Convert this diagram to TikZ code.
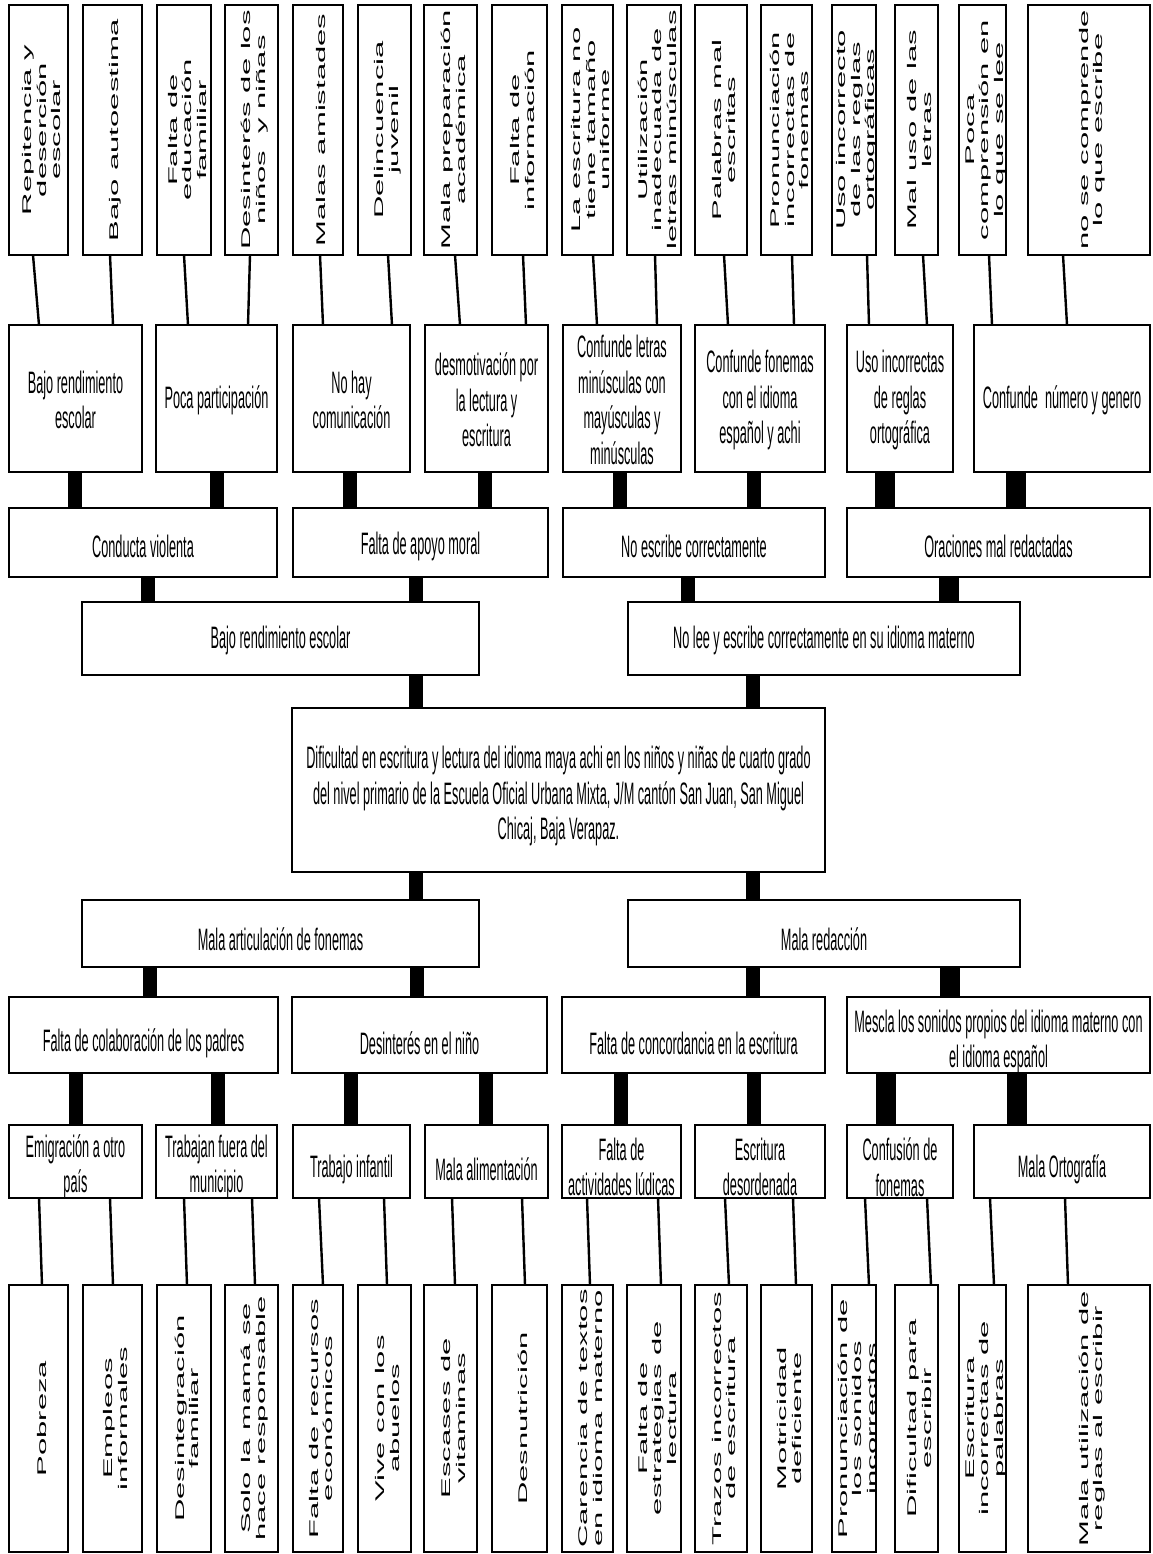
\documentclass[tikz,border=0pt]{standalone}
\usepackage{fontspec}
\setmainfont{Liberation Sans}
\newfontfamily\hfnt[FakeStretch=0.41]{Liberation Sans}
\newfontfamily\vfnt[FakeStretch=2.46]{Liberation Sans}
\tikzset{
  bx/.style={draw, line width=1.5pt, inner sep=0pt, outer sep=0pt},
  ht/.style={align=center, inner sep=0pt, font=\hfnt\fontsize{31}{35.5}\selectfont},
  vt/.style={rotate=90, align=center, inner sep=0pt, font=\vfnt\fontsize{12.6}{14.5}\selectfont},
  bar/.style={line width=14pt},
  wbar/.style={line width=20pt},
  sl/.style={line width=2.4pt}
}
% horizontal box: name, x1, y1, x2, y2, text y, text
\newcommand{\HBx}[7]{%
  \node[bx, minimum width={#4-#2}, minimum height={#5-#3}] (#1) at ({(#2+#4)/2},{(#3+#5)/2}) {};
  \node[ht] (#1-t) at ({(#2+#4)/2},#6) {#7};
}
% vertical box: name, x1, y1, x2, y2, text
\newcommand{\VBx}[6]{%
  \node[bx, minimum width={#4-#2}, minimum height={#5-#3}] (#1) at ({(#2+#4)/2},{(#3+#5)/2}) {};
  \node[vt] (#1-t) at ({(#2+#4)/2+3},{(#3+#5)/2}) {#6};
}
\begin{document}
\begin{tikzpicture}[x=1pt,y=-1pt]
\useasboundingbox[fill=white] (0,0) rectangle (1152,1554);

% ---------- top row ----------
\VBx{t1}{9}{5}{68}{255}{Repitencia y\\deserción\\escolar}
\VBx{t2}{83}{5}{142}{255}{Bajo autoestima}
\VBx{t3}{157}{5}{211}{255}{Falta de\\educación\\familiar}
\VBx{t4}{225}{5}{278}{255}{Desinterés de los\\niños\ \ y niñas}
\VBx{t5}{293}{5}{343}{255}{Malas amistades}
\VBx{t6}{358}{5}{411}{255}{Delincuencia\\juvenil}
\VBx{t7}{424}{5}{477}{255}{Mala preparación\\académica}
\VBx{t8}{492}{5}{547}{255}{Falta de\\información}
\VBx{t9}{562}{5}{613}{255}{La escritura no\\tiene tamaño\\uniforme}
\VBx{t10}{627}{5}{681}{255}{Utilización\\inadecuada de\\letras minúsculas}
\VBx{t11}{695}{5}{747}{255}{Palabras mal\\escritas}
\VBx{t12}{761}{5}{812}{255}{Pronunciación\\incorrectas de\\fonemas}
\VBx{t13}{832}{5}{876}{255}{Uso incorrecto\\de las reglas\\ortográficas}
\VBx{t14}{895}{5}{938}{255}{Mal uso de las\\letras}
\VBx{t15}{959}{5}{1006}{255}{Poca\\comprensión en\\lo que se lee}
\VBx{t16}{1028}{5}{1150}{255}{no se comprende\\lo que escribe}

% ---------- row 2 ----------
\HBx{ra}{9}{325}{142}{472}{400}{Bajo rendimiento\\escolar}
\HBx{rb}{156}{325}{277}{472}{400}{Poca participación}
\HBx{rc}{293}{325}{410}{472}{400}{No hay\\comunicación}
\HBx{rd}{425}{325}{548}{472}{400}{desmotivación por\\la lectura y\\escritura}
\HBx{re}{563}{325}{681}{472}{400}{Confunde letras\\minúsculas con\\mayúsculas y\\minúsculas}
\HBx{rf}{695}{325}{825}{472}{400}{Confunde fonemas\\con el idioma\\español y achi}
\HBx{rg}{847}{325}{953}{472}{400}{Uso incorrectas\\de reglas\\ortográfica}
\HBx{rh}{974}{325}{1150}{472}{400}{Confunde\ \ número y genero}

% ---------- row 3 ----------
\HBx{c1}{9}{508}{277}{577}{546}{Conducta violenta}
\HBx{c2}{293}{508}{548}{577}{546}{Falta de apoyo moral}
\HBx{c3}{563}{508}{825}{577}{546}{No escribe correctamente}
\HBx{c4}{847}{508}{1150}{577}{546}{Oraciones mal redactadas}

% ---------- row 4 ----------
\HBx{d1}{82}{602}{479}{675}{640}{Bajo rendimiento escolar}
\HBx{d2}{628}{602}{1020}{675}{640}{No lee y escribe correctamente en su idioma materno}

% ---------- central ----------
\HBx{ctr}{292}{708}{825}{872}{796}{Dificultad en escritura y lectura del idioma maya achi en los niños y niñas de cuarto grado\\del nivel primario de la Escuela Oficial Urbana Mixta, J/M cantón San Juan, San Miguel\\Chicaj, Baja Verapaz.}

% ---------- row 5 ----------
\HBx{e1}{82}{900}{479}{967}{939}{Mala articulación de fonemas}
\HBx{e2}{628}{900}{1020}{967}{939}{Mala redacción}

% ---------- row 6 ----------
\HBx{f1}{9}{997}{278}{1073}{1043}{Falta de colaboración de los padres}
\HBx{f2}{292}{997}{547}{1073}{1043}{Desinterés en el niño}
\HBx{f3}{562}{997}{825}{1073}{1043}{Falta de concordancia en la escritura}
\HBx{f4}{847}{997}{1150}{1073}{1042}{Mescla los sonidos propios del idioma materno con\\el idioma español}

% ---------- row 7 ----------
\HBx{g1}{9}{1125}{142}{1198}{1167}{Emigración a otro\\país}
\HBx{g2}{156}{1125}{277}{1198}{1167}{Trabajan fuera del\\municipio}
\HBx{g3}{293}{1125}{410}{1198}{1169}{Trabajo infantil}
\HBx{g4}{425}{1125}{548}{1198}{1169}{Mala alimentación}
\HBx{g5}{562}{1125}{681}{1198}{1167}{Falta de\\actividades lúdicas}
\HBx{g6}{695}{1125}{825}{1198}{1167}{Escritura\\desordenada}
\HBx{g7}{847}{1125}{953}{1198}{1167}{Confusión de\\fonemas}
\HBx{g8}{974}{1125}{1150}{1198}{1169}{Mala Ortografía}

% ---------- bottom row ----------
\VBx{b1}{9}{1285}{68}{1552}{Pobreza}
\VBx{b2}{83}{1285}{142}{1552}{Empleos\\informales}
\VBx{b3}{157}{1285}{211}{1552}{Desintegración\\familiar}
\VBx{b4}{225}{1285}{278}{1552}{Solo la mamá se\\hace responsable}
\VBx{b5}{293}{1285}{343}{1552}{Falta de recursos\\económicos}
\VBx{b6}{358}{1285}{411}{1552}{Vive con los\\abuelos}
\VBx{b7}{424}{1285}{477}{1552}{Escases de\\vitaminas}
\VBx{b8}{492}{1285}{547}{1552}{Desnutrición}
\VBx{b9}{562}{1285}{613}{1552}{Carencia de textos\\en idioma materno}
\VBx{b10}{627}{1285}{681}{1552}{Falta de\\estrategias de\\lectura}
\VBx{b11}{695}{1285}{747}{1552}{Trazos incorrectos\\de escritura}
\VBx{b12}{761}{1285}{812}{1552}{Motricidad\\deficiente}
\VBx{b13}{832}{1285}{876}{1552}{Pronunciación de\\los sonidos\\incorrectos}
\VBx{b14}{895}{1285}{938}{1552}{Dificultad para\\escribir}
\VBx{b15}{959}{1285}{1006}{1552}{Escritura\\incorrectas de\\palabras}
\VBx{b16}{1028}{1285}{1150}{1552}{Mala utilización de\\reglas al escribir}

% ---------- slanted connectors top ----------
\draw[sl] (t1.south -| 33,0) -- (ra.north -| 39,0);
\draw[sl] (t2.south -| 110,0) -- (ra.north -| 113,0);
\draw[sl] (t3.south -| 184,0) -- (rb.north -| 188,0);
\draw[sl] (t4.south -| 250,0) -- (rb.north -| 248,0);
\draw[sl] (t5.south -| 320,0) -- (rc.north -| 323,0);
\draw[sl] (t6.south -| 388,0) -- (rc.north -| 392,0);
\draw[sl] (t7.south -| 455,0) -- (rd.north -| 460,0);
\draw[sl] (t8.south -| 523,0) -- (rd.north -| 526,0);
\draw[sl] (t9.south -| 593,0) -- (re.north -| 597,0);
\draw[sl] (t10.south -| 655,0) -- (re.north -| 657,0);
\draw[sl] (t11.south -| 724,0) -- (rf.north -| 728,0);
\draw[sl] (t12.south -| 792,0) -- (rf.north -| 794,0);
\draw[sl] (t13.south -| 867,0) -- (rg.north -| 869,0);
\draw[sl] (t14.south -| 923,0) -- (rg.north -| 927,0);
\draw[sl] (t15.south -| 989,0) -- (rh.north -| 992,0);
\draw[sl] (t16.south -| 1063,0) -- (rh.north -| 1067,0);

% ---------- bars row 2 -> row 3 ----------
\draw[bar] (ra.south -| 75,0) -- (c1.north -| 75,0);
\draw[bar] (rb.south -| 217,0) -- (c1.north -| 217,0);
\draw[bar] (rc.south -| 350,0) -- (c2.north -| 350,0);
\draw[bar] (rd.south -| 485,0) -- (c2.north -| 485,0);
\draw[bar] (re.south -| 620,0) -- (c3.north -| 620,0);
\draw[bar] (rf.south -| 754,0) -- (c3.north -| 754,0);
\draw[wbar] (rg.south -| 885,0) -- (c4.north -| 885,0);
\draw[wbar] (rh.south -| 1016,0) -- (c4.north -| 1016,0);

% ---------- bars row 3 -> row 4 ----------
\draw[bar] (c1.south -| 148,0) -- (d1.north -| 148,0);
\draw[bar] (c2.south -| 416,0) -- (d1.north -| 416,0);
\draw[bar] (c3.south -| 688,0) -- (d2.north -| 688,0);
\draw[wbar] (c4.south -| 949,0) -- (d2.north -| 949,0);

% ---------- bars row 4 -> centre -> row 5 ----------
\draw[bar] (d1.south -| 416,0) -- (ctr.north -| 416,0);
\draw[bar] (d2.south -| 753,0) -- (ctr.north -| 753,0);
\draw[bar] (ctr.south -| 416,0) -- (e1.north -| 416,0);
\draw[bar] (ctr.south -| 753,0) -- (e2.north -| 753,0);

% ---------- bars row 5 -> row 6 ----------
\draw[bar] (e1.south -| 150,0) -- (f1.north -| 150,0);
\draw[bar] (e1.south -| 417,0) -- (f2.north -| 417,0);
\draw[bar] (e2.south -| 753,0) -- (f3.north -| 753,0);
\draw[wbar] (e2.south -| 950,0) -- (f4.north -| 950,0);

% ---------- bars row 6 -> row 7 ----------
\draw[bar] (f1.south -| 76,0) -- (g1.north -| 76,0);
\draw[bar] (f1.south -| 218,0) -- (g2.north -| 218,0);
\draw[bar] (f2.south -| 351,0) -- (g3.north -| 351,0);
\draw[bar] (f2.south -| 486,0) -- (g4.north -| 486,0);
\draw[bar] (f3.south -| 621,0) -- (g5.north -| 621,0);
\draw[bar] (f3.south -| 754,0) -- (g6.north -| 754,0);
\draw[wbar] (f4.south -| 886,0) -- (g7.north -| 886,0);
\draw[wbar] (f4.south -| 1017,0) -- (g8.north -| 1017,0);

% ---------- slanted connectors bottom ----------
\draw[sl] (g1.south -| 39,0) -- (b1.north -| 42,0);
\draw[sl] (g1.south -| 110,0) -- (b2.north -| 113,0);
\draw[sl] (g2.south -| 184,0) -- (b3.north -| 187,0);
\draw[sl] (g2.south -| 252,0) -- (b4.north -| 255,0);
\draw[sl] (g3.south -| 319,0) -- (b5.north -| 323,0);
\draw[sl] (g3.south -| 384,0) -- (b6.north -| 387,0);
\draw[sl] (g4.south -| 452,0) -- (b7.north -| 455,0);
\draw[sl] (g4.south -| 522,0) -- (b8.north -| 525,0);
\draw[sl] (g5.south -| 587,0) -- (b9.north -| 590,0);
\draw[sl] (g5.south -| 658,0) -- (b10.north -| 661,0);
\draw[sl] (g6.south -| 725,0) -- (b11.north -| 729,0);
\draw[sl] (g6.south -| 793,0) -- (b12.north -| 796,0);
\draw[sl] (g7.south -| 865,0) -- (b13.north -| 869,0);
\draw[sl] (g7.south -| 927,0) -- (b14.north -| 931,0);
\draw[sl] (g8.south -| 990,0) -- (b15.north -| 994,0);
\draw[sl] (g8.south -| 1065,0) -- (b16.north -| 1068,0);
\end{tikzpicture}
\end{document}
